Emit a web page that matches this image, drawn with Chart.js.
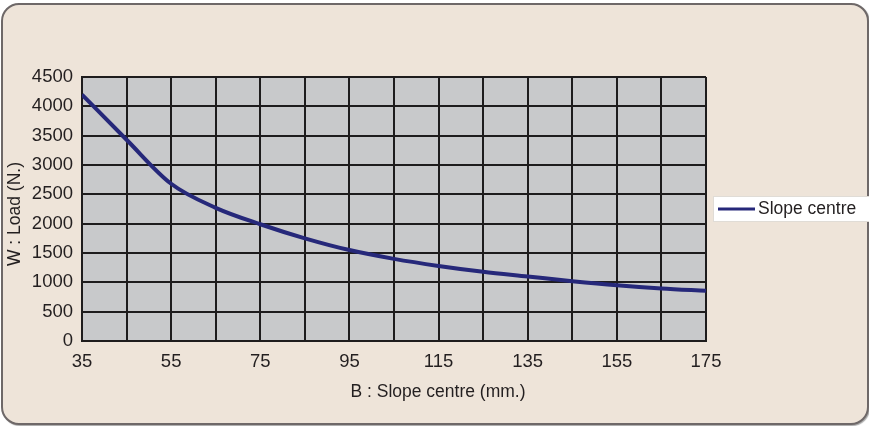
<!DOCTYPE html>
<html>
<head>
<meta charset="utf-8">
<script src="https://cdn.jsdelivr.net/npm/chart.js@4.4.0/dist/chart.umd.min.js"></script>
<style>
  html, body { margin: 0; padding: 0; background: #ffffff; }
  #wrap { position: relative; width: 869px; height: 426px; }
  #frame {
    position: absolute; left: 1px; top: 3px; width: 864px; height: 418px;
    background: #eee4d9; border: 2px solid #6e6868; border-radius: 18px;
    box-shadow: 1px 1px 1px rgba(0,0,0,0.35);
  }
  #c { position: absolute; left: 0; top: 0; }
</style>
</head>
<body>
<div id="wrap">
  <div id="frame"></div>
  <canvas id="c" width="869" height="426"></canvas>
</div>
<script>
var slope = [35, 45, 55, 65, 75, 85, 95, 105, 115, 125, 135, 145, 155, 165, 175];
var load = [4200, 3430, 2680, 2270, 1990, 1750, 1550, 1400, 1280, 1180, 1100, 1020, 950, 895, 855];
var seriesName = 'Slope centre';
var xTitle = 'B : Slope centre (mm.)';
var yTitle = 'W : Load (N.)';

var FONT = 'Liberation Sans, Arial, sans-serif';
var lineColor = '#26287a';

var points = slope.map(function (v, i) { return { x: v, y: load[i] }; });

// grey plot background + axis titles + legend box
var extras = {
  id: 'extras',
  beforeDraw: function (chart) {
    var a = chart.chartArea, ctx = chart.ctx;
    ctx.save();
    ctx.fillStyle = '#c8c9cb';
    ctx.fillRect(a.left, a.top, a.right - a.left, a.bottom - a.top);
    ctx.restore();
  },
  afterDraw: function (chart) {
    var ctx = chart.ctx;
    ctx.save();
    ctx.fillStyle = '#231f20';
    ctx.font = '17.5px ' + FONT;
    ctx.textAlign = 'center';
    ctx.textBaseline = 'middle';
    ctx.fillText(xTitle, 438, 392);
    ctx.translate(15, 214);
    ctx.rotate(-Math.PI / 2);
    ctx.fillText(yTitle, 0, 0);
    ctx.restore();

    // legend
    ctx.save();
    ctx.fillStyle = '#ffffff';
    ctx.strokeStyle = '#e0dcd6';
    ctx.lineWidth = 1;
    ctx.fillRect(713, 196, 156, 25);
    ctx.strokeRect(713.5, 196.5, 156, 25);
    ctx.strokeStyle = lineColor;
    ctx.lineWidth = 3;
    ctx.beginPath();
    ctx.moveTo(718, 209);
    ctx.lineTo(755, 209);
    ctx.stroke();
    ctx.fillStyle = '#231f20';
    ctx.font = '17.5px ' + FONT;
    ctx.textAlign = 'left';
    ctx.textBaseline = 'middle';
    ctx.fillText(seriesName, 758, 209);
    ctx.restore();
  }
};

new Chart(document.getElementById('c'), {
  type: 'line',
  data: {
    datasets: [{
      label: seriesName,
      data: points,
      borderColor: lineColor,
      borderWidth: 4,
      pointRadius: 0,
      fill: false,
      cubicInterpolationMode: 'monotone'
    }]
  },
  options: {
    responsive: false,
    animation: false,
    layout: { padding: { left: 0, top: 77, right: 163, bottom: 0 } },
    plugins: { legend: { display: false }, tooltip: { enabled: false } },
    scales: {
      x: {
        type: 'linear',
        min: 35,
        max: 175,
        afterFit: function (s) { s.height = 85; },
        ticks: {
          stepSize: 10,
          autoSkip: false,
          maxRotation: 0,
          padding: 10,
          color: '#231f20',
          font: { family: FONT, size: 18.5 },
          callback: function (v) { return (v - 35) % 20 === 0 ? String(v) : ''; }
        },
        grid: { color: '#1e1c1d', lineWidth: 2, drawTicks: false },
        border: { color: '#1e1c1d', width: 2 }
      },
      y: {
        min: 0,
        max: 4500,
        afterFit: function (s) { s.width = 82; },
        ticks: {
          stepSize: 500,
          padding: 9,
          color: '#231f20',
          font: { family: FONT, size: 18.5 },
          callback: function (v) { return String(v); }
        },
        grid: { color: '#1e1c1d', lineWidth: 2, drawTicks: false },
        border: { color: '#1e1c1d', width: 2 }
      }
    }
  },
  plugins: [extras]
});
</script>
</body>
</html>
